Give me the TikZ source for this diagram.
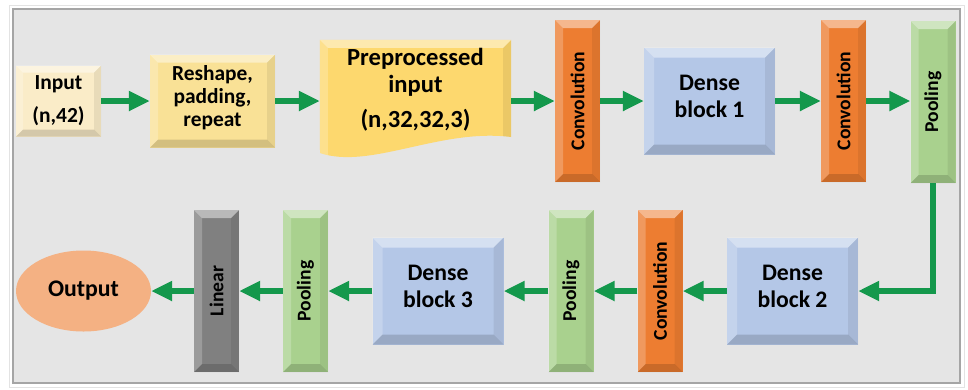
\documentclass[tikz,border=0pt]{standalone}
\usepackage{fontspec}
\setmainfont{Carlito}
\usetikzlibrary{arrows.meta,shapes.geometric}
\definecolor{bgc}{RGB}{229,229,229}
\definecolor{framec}{RGB}{165,165,165}
\definecolor{inputc}{RGB}{250,236,200}
\definecolor{reshapec}{RGB}{249,225,150}
\definecolor{prec}{RGB}{253,216,110}
\definecolor{convc}{RGB}{237,125,49}
\definecolor{densec}{RGB}{180,199,231}
\definecolor{poolc}{RGB}{169,209,142}
\definecolor{linc}{RGB}{128,128,128}
\definecolor{outc}{RGB}{244,177,131}
\definecolor{arrc}{RGB}{20,152,76}
\newcommand{\vlabel}[1]{\rotatebox{90}{\fontsize{19.6}{22}\selectfont\bfseries #1}}
\tikzset{
  bev/.style={path picture={
    \path (path picture bounding box.north west) coordinate (bnw)
          (path picture bounding box.north east) coordinate (bne)
          (path picture bounding box.south west) coordinate (bsw)
          (path picture bounding box.south east) coordinate (bse);
    \fill[white,opacity=0.45] (bnw) -- (bne) -- ([shift={(-#1,-#1)}]bne) -- ([shift={(#1,-#1)}]bnw) -- cycle;
    \fill[white,opacity=0.22] (bnw) -- ([shift={(#1,-#1)}]bnw) -- ([shift={(#1,#1)}]bsw) -- (bsw) -- cycle;
    \fill[black,opacity=0.07] (bne) -- (bse) -- ([shift={(-#1,#1)}]bse) -- ([shift={(-#1,-#1)}]bne) -- cycle;
    \fill[black,opacity=0.15] (bsw) -- ([shift={(#1,#1)}]bsw) -- ([shift={(-#1,#1)}]bse) -- (bse) -- cycle;
  }},
  blk/.style={rectangle, inner sep=0pt, align=center, text=black},
  tall/.style={blk, minimum width=45pt, minimum height=162pt, bev=8pt},
  densebox/.style={blk, fill=densec, minimum width=131pt, minimum height=107pt, bev=10pt,
    text depth=9pt, font=\fontsize{23.7}{27}\selectfont\bfseries},
  arr/.style={draw=arrc, line width=5.5pt, line join=miter,
    -{Triangle[length=21pt,width=19pt]}},
}
\begin{document}
\begin{tikzpicture}[x=1pt,y=-1pt]
\useasboundingbox (0,0) rectangle (968,389);
\fill[white] (0,0) rectangle (968,389);
% frame
\draw[gray!22, line width=1pt] (9,5) rectangle (964,387);
\draw[fill=bgc, draw=framec, line width=1.2pt] (13,9) rectangle (960,383);

% top row
\node[blk, fill=inputc, minimum width=85pt, minimum height=71pt, bev=7pt,
  font=\fontsize{21.5}{26}\selectfont\bfseries] (input) at (58.5,101) {Input\\[7pt](n,42)};
\node[blk, fill=reshapec, minimum width=125pt, minimum height=93pt, bev=8pt, text depth=11pt,
  font=\fontsize{21.4}{23}\selectfont\bfseries] (reshape) at (212.5,101) {Reshape,\\padding,\\repeat};
\node[blk, minimum width=191pt, minimum height=122pt] (pre) at (415.5,101) {};
\path[fill=prec, bev=8pt] (pre.north west) -- (pre.north east) -- (511,137)
  .. controls (440,128) and (370,170) .. (320,153) -- cycle;
\node[blk, font=\fontsize{24.6}{27}\selectfont\bfseries] (pretext) at (415.5,90)
  {Preprocessed\\input\\[8pt](n,32,32,3)};
\node[tall, fill=convc] (conv1) at (577.5,101) {\vlabel{Convolution}};
\node[densebox] (dense1) at (709.5,101) {Dense\\block 1};
\node[tall, fill=convc] (conv2) at (843.5,101) {\vlabel{Convolution}};
\node[tall, fill=poolc] (pool1) at (933,102) {\vlabel{Pooling}};

% bottom row
\node[densebox] (dense2) at (792.5,291) {Dense\\block 2};
\node[tall, fill=convc] (conv3) at (660,291) {\vlabel{Convolution}};
\node[tall, fill=poolc] (pool2) at (571,291) {\vlabel{Pooling}};
\node[densebox] (dense3) at (438,291) {Dense\\block 3};
\node[tall, fill=poolc] (pool3) at (305.5,291) {\vlabel{Pooling}};
\node[tall, fill=linc] (linear) at (216.5,291) {\vlabel{Linear}};
\node[ellipse, fill=outc, inner sep=0pt, minimum width=135pt, minimum height=81pt,
  font=\fontsize{23.8}{27}\selectfont\bfseries] (output) at (83.5,291) {Output};

% connectors
\draw[arr] (input) -- (reshape);
\draw[arr] (reshape) -- (pre);
\draw[arr] (pre) -- (conv1);
\draw[arr] (conv1) -- (dense1);
\draw[arr] (dense1) -- (conv2);
\draw[arr] (conv2.east) -- (pool1.west |- conv2.east);
\draw[arr] (pool1.south) |- (dense2.east);
\draw[arr] (dense2) -- (conv3);
\draw[arr] (conv3) -- (pool2);
\draw[arr] (pool2) -- (dense3);
\draw[arr] (dense3) -- (pool3);
\draw[arr] (pool3) -- (linear);
\draw[arr] (linear) -- (output);
\end{tikzpicture}
\end{document}
